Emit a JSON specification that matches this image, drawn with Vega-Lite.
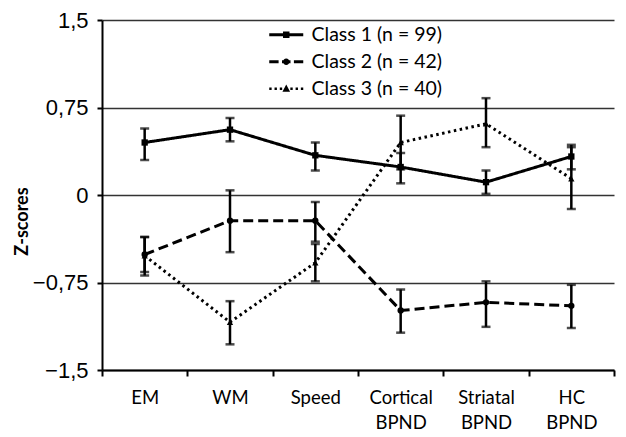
{
  "$schema": "https://vega.github.io/schema/vega-lite/v6.json",
  "autosize": {"type": "none"},
  "padding": {"left": 102, "top": 20, "right": 12, "bottom": 67},
  "width": 512,
  "height": 350,
  "background": "white",
  "config": {"view": {"stroke": null}},
  "data": {"values": [
    {"measure": "EM", "i": 0, "cls": "Class 1 (n = 99)", "z": 0.45, "lo": 0.30, "hi": 0.57},
    {"measure": "WM", "i": 1, "cls": "Class 1 (n = 99)", "z": 0.56, "lo": 0.46, "hi": 0.66},
    {"measure": "Speed", "i": 2, "cls": "Class 1 (n = 99)", "z": 0.34, "lo": 0.21, "hi": 0.45},
    {"measure": "Cortical BPND", "i": 3, "cls": "Class 1 (n = 99)", "z": 0.24, "lo": 0.10, "hi": 0.36},
    {"measure": "Striatal BPND", "i": 4, "cls": "Class 1 (n = 99)", "z": 0.11, "lo": 0.01, "hi": 0.21},
    {"measure": "HC BPND", "i": 5, "cls": "Class 1 (n = 99)", "z": 0.33, "lo": 0.22, "hi": 0.43},
    {"measure": "EM", "i": 0, "cls": "Class 2 (n = 42)", "z": -0.51, "lo": -0.66, "hi": -0.36},
    {"measure": "WM", "i": 1, "cls": "Class 2 (n = 42)", "z": -0.22, "lo": -0.49, "hi": 0.04},
    {"measure": "Speed", "i": 2, "cls": "Class 2 (n = 42)", "z": -0.22, "lo": -0.40, "hi": -0.06},
    {"measure": "Cortical BPND", "i": 3, "cls": "Class 2 (n = 42)", "z": -0.99, "lo": -1.18, "hi": -0.81},
    {"measure": "Striatal BPND", "i": 4, "cls": "Class 2 (n = 42)", "z": -0.92, "lo": -1.13, "hi": -0.74},
    {"measure": "HC BPND", "i": 5, "cls": "Class 2 (n = 42)", "z": -0.95, "lo": -1.14, "hi": -0.77},
    {"measure": "EM", "i": 0, "cls": "Class 3 (n = 40)", "z": -0.52, "lo": -0.69, "hi": -0.36},
    {"measure": "WM", "i": 1, "cls": "Class 3 (n = 40)", "z": -1.09, "lo": -1.28, "hi": -0.91},
    {"measure": "Speed", "i": 2, "cls": "Class 3 (n = 40)", "z": -0.58, "lo": -0.74, "hi": -0.42},
    {"measure": "Cortical BPND", "i": 3, "cls": "Class 3 (n = 40)", "z": 0.45, "lo": 0.22, "hi": 0.68},
    {"measure": "Striatal BPND", "i": 4, "cls": "Class 3 (n = 40)", "z": 0.61, "lo": 0.41, "hi": 0.83},
    {"measure": "HC BPND", "i": 5, "cls": "Class 3 (n = 40)", "z": 0.14, "lo": -0.12, "hi": 0.41}
  ]},
  "encoding": {
    "x": {
      "field": "i", "type": "quantitative",
      "scale": {"domain": [-0.5, 5.5], "nice": false, "zero": false},
      "axis": {
        "title": null,
        "values": [-0.5, 0, 0.5, 1, 1.5, 2, 2.5, 3, 3.5, 4, 4.5, 5, 5.5],
        "labelExpr": "datum.value % 1 != 0 ? '' : [['EM'], ['WM'], ['Speed'], ['Cortical', 'BPND'], ['Striatal', 'BPND'], ['HC', 'BPND']][datum.value]",
        "labelOverlap": false,
        "labelFlush": false,
        "labelFont": "Lato",
        "labelFontSize": 18.5,
        "labelColor": "black",
        "labelLineHeight": 25,
        "labelPadding": 12,
        "labelBaseline": "top",
        "tickOpacity": {"condition": {"test": "datum.value % 1 != 0", "value": 1}, "value": 0},
        "tickColor": "black",
        "tickWidth": 2,
        "tickSize": 6,
        "domainColor": "black",
        "domainWidth": 2,
        "grid": false
      }
    },
    "y": {
      "type": "quantitative",
      "title": "Z-scores",
      "scale": {"domain": [-1.5, 1.5], "nice": false, "zero": false}
    }
  },
  "layer": [
    {
      "mark": {"type": "line", "color": "black", "strokeWidth": 3},
      "encoding": {
        "y": {
          "field": "z", "type": "quantitative", "title": "Z-scores",
          "axis": {
            "title": "Z-scores",
            "titleFont": "Lato",
            "titleFontSize": 18,
            "titleFontWeight": "bold",
            "titleColor": "black",
            "titleX": -80,
            "titleY": 201,
            "titleBaseline": "middle",
            "titleAlign": "center",
            "titleAngle": -90,
            "values": [-1.5, -0.75, 0, 0.75, 1.5],
            "labelExpr": "datum.value == 0 ? '0' : replace(format(datum.value, '.2~f'), '.', ',')",
            "labelFont": "Liberation Sans",
            "labelFontSize": 22,
            "labelColor": "black",
            "labelPadding": 9,
            "tickColor": "black",
            "tickWidth": 2,
            "tickSize": 5,
            "domainColor": "black",
            "domainWidth": 2,
            "grid": true,
            "gridColor": "#333333",
            "gridWidth": 1.3,
            "gridOpacity": 1
          }
        },
        "detail": {"field": "cls"},
        "strokeDash": {
          "field": "cls", "type": "nominal",
          "scale": {"range": [[1, 0], [10, 5], [2.5, 3.5]]},
          "legend": null
        }
      }
    },
    {
      "mark": {"type": "errorbar", "color": "black", "thickness": 2.5, "ticks": {"size": 9, "thickness": 2.5, "color": "black"}},
      "encoding": {
        "y": {"field": "lo", "type": "quantitative", "title": "Z-scores"},
        "y2": {"field": "hi"}
      }
    },
    {
      "mark": {"type": "point", "filled": true, "fill": "black", "opacity": 0},
      "encoding": {
        "y": {"field": "z", "type": "quantitative", "title": "Z-scores"},
        "shape": {
          "field": "cls", "type": "nominal",
          "scale": {"range": [
            "M-1,-0.17H3V0.17H-1ZM0.62,-0.38H1.38V0.38H0.62Z",
            "M-1,-0.17H0.1V0.17H-1ZM0.5,-0.17H1.5V0.17H0.5ZM1.9,-0.17H3V0.17H1.9ZM1.38,0A0.38,0.38 0 1,1 0.62,0A0.38,0.38 0 1,1 1.38,0Z",
            "M-1,-0.15H-0.72V0.15H-1ZM-0.38,-0.15H-0.1V0.15H-0.38ZM0.24,-0.15H0.52V0.15H0.24ZM1.48,-0.15H1.76V0.15H1.48ZM2.1,-0.15H2.38V0.15H2.1ZM2.72,-0.15H3V0.15H2.72ZM1,-0.5L1.45,0.35H0.55Z"
          ]},
          "legend": {
            "title": null,
            "orient": "none",
            "legendX": 166,
            "legendY": 5,
            "padding": 0,
            "symbolSize": 289,
            "symbolOpacity": 1,
            "symbolFillColor": "black",
            "symbolStrokeWidth": 0,
            "labelOffset": 24,
            "labelFont": "Lato",
            "labelFontSize": 19.5,
            "labelColor": "black",
            "rowPadding": 6
          }
        }
      }
    },
    {
      "mark": {"type": "point", "filled": true, "color": "black", "opacity": 1, "size": 40},
      "encoding": {
        "y": {"field": "z", "type": "quantitative", "title": "Z-scores"},
        "shape": {
          "field": "cls", "type": "nominal",
          "scale": {"range": ["square", "circle", "triangle-up"]},
          "legend": null
        }
      }
    }
  ],
  "resolve": {"scale": {"shape": "independent"}, "legend": {"shape": "independent"}}
}
